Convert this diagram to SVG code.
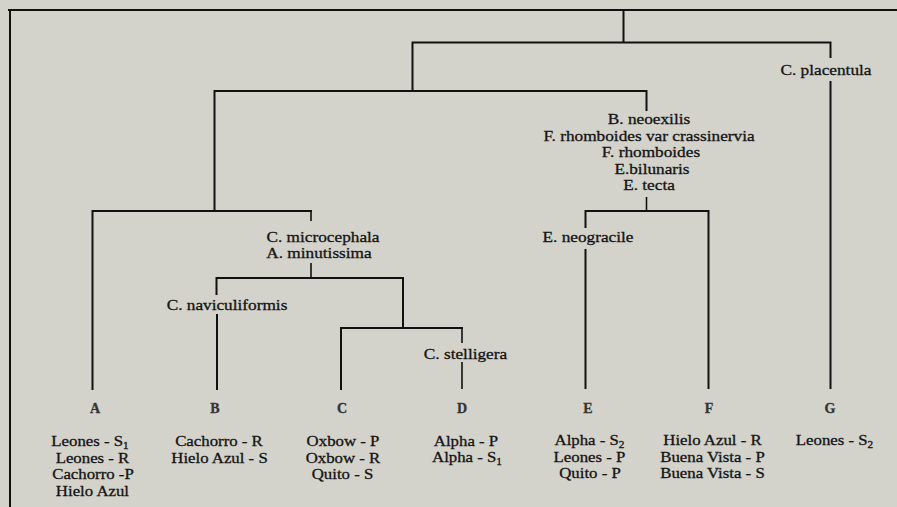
<svg xmlns="http://www.w3.org/2000/svg" width="897" height="507" viewBox="0 0 897 507">
<style>
text{font-family:"Liberation Serif","Times New Roman",serif;fill:#141414;stroke:#141414;stroke-width:0.3;text-anchor:middle}
.lbl{font-size:15px;transform:scaleX(1.15);transform-box:fill-box;transform-origin:center}
.site{font-size:15px;transform:scaleX(1.12);transform-box:fill-box;transform-origin:center}
.grp{font-size:14px;font-weight:bold;fill:#333;stroke:#333}
.sub{font-size:10px}
.ln{fill:none;stroke:#111;stroke-width:2;stroke-linecap:square}
.tk{fill:none;stroke:#111;stroke-width:1.6}
</style>
<rect width="897" height="507" fill="#d3d2cb"/>
<g id="frame"><path class="ln" d="M9,10 H897 M10,10 V507"/></g>
<g id="connectors">
<path class="ln" d="M623.5,10 V42.5 M412.5,42.5 H830.5 M830.5,42.5 V57 M830.5,82 V388 M412.5,42.5 V91 M214.5,91 H646.5 M646.5,91 V110 M214.5,91 V211 M585.5,211 H708.5 M585.5,211 V227 M585.5,250 V388 M708.5,211 V388 M92.5,211 H311 M92.5,211 V389 M216.5,278 H403 M216.5,278 V294 M217,315 V389 M403,278 V328 M341,328 H462 M341,328 V389"/>
<path class="tk" d="M646.5,197 V211 M311,211 V221 M311,263 V278 M462,328 V343 M462,362 V389"/>
</g>
<g id="node-placentula"><text class="lbl" x="826" y="75">C. placentula</text></g>
<g id="node-neoexilis">
<text class="lbl" x="649" y="124">B. neoexilis</text>
<text class="lbl" x="649" y="141">F. rhomboides var crassinervia</text>
<text class="lbl" x="651" y="157.5">F. rhomboides</text>
<text class="lbl" x="652" y="174">E.bilunaris</text>
<text class="lbl" x="649" y="190.5">E. tecta</text>
</g>
<g id="node-neogracile"><text class="lbl" x="588" y="242">E. neogracile</text></g>
<g id="node-microcephala">
<text class="lbl" x="323" y="242">C. microcephala</text>
<text class="lbl" x="319" y="258.5">A. minutissima</text>
</g>
<g id="node-naviculiformis"><text class="lbl" x="227" y="310">C. naviculiformis</text></g>
<g id="node-stelligera"><text class="lbl" x="465.5" y="359">C. stelligera</text></g>
<g id="group-A">
<text class="grp" x="95" y="413">A</text>
<text class="site" x="90" y="446.5">Leones - S<tspan class="sub" dy="3">1</tspan></text>
<text class="site" x="92.5" y="463">Leones - R</text>
<text class="site" x="93" y="479.5">Cachorro -P</text>
<text class="site" x="92.5" y="496">Hielo Azul</text>
</g>
<g id="group-B">
<text class="grp" x="215" y="413">B</text>
<text class="site" x="219" y="446.5">Cachorro - R</text>
<text class="site" x="219.5" y="463">Hielo Azul - S</text>
</g>
<g id="group-C">
<text class="grp" x="342" y="413">C</text>
<text class="site" x="343" y="446.5">Oxbow - P</text>
<text class="site" x="343" y="463">Oxbow - R</text>
<text class="site" x="342.5" y="479.5">Quito - S</text>
</g>
<g id="group-D">
<text class="grp" x="462" y="413">D</text>
<text class="site" x="466" y="446">Alpha - P</text>
<text class="site" x="467" y="462.5">Alpha - S<tspan class="sub" dy="3">1</tspan></text>
</g>
<g id="group-E">
<text class="grp" x="588" y="413">E</text>
<text class="site" x="589.5" y="445.5">Alpha - S<tspan class="sub" dy="3">2</tspan></text>
<text class="site" x="589.5" y="462">Leones - P</text>
<text class="site" x="590" y="478.5">Quito - P</text>
</g>
<g id="group-F">
<text class="grp" x="709" y="413">F</text>
<text class="site" x="712.5" y="445.5">Hielo Azul - R</text>
<text class="site" x="712.5" y="462">Buena Vista - P</text>
<text class="site" x="712.5" y="478.5">Buena Vista - S</text>
</g>
<g id="group-G">
<text class="grp" x="830" y="413">G</text>
<text class="site" x="834.5" y="445.5">Leones - S<tspan class="sub" dy="3">2</tspan></text>
</g>
</svg>
